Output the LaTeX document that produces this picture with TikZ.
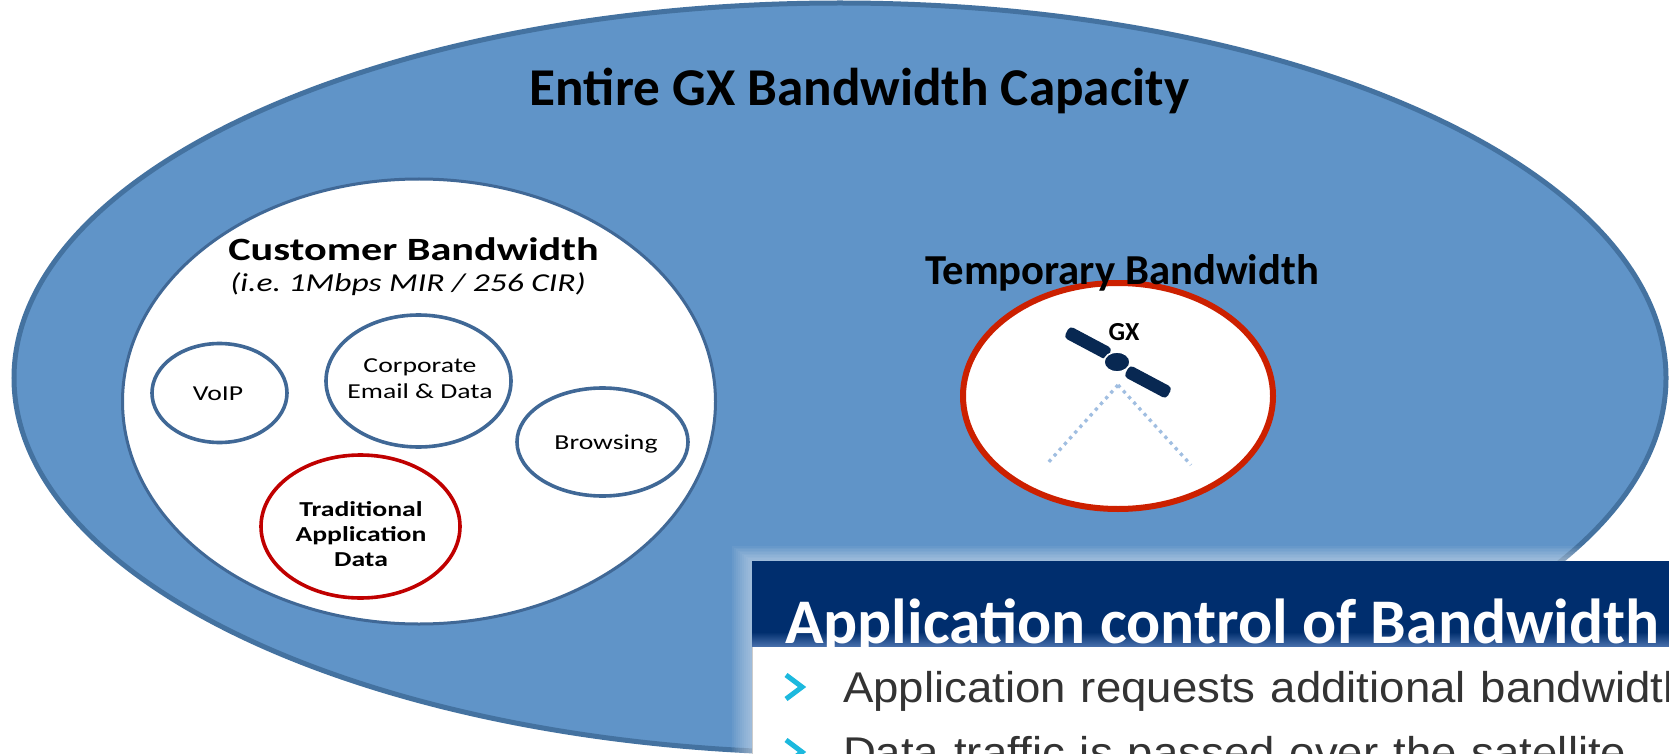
\documentclass[tikz,border=0pt]{standalone}
\usepackage{fontspec}
\setmainfont{Carlito}
\newfontfamily\widefont[FakeStretch=1.3]{Carlito}
\newfontfamily\arialfont[FakeStretch=1.06]{Liberation Sans}
\usetikzlibrary{shapes.geometric}
\definecolor{gxfill}{RGB}{96,148,200}
\definecolor{gxline}{RGB}{68,114,160}
\definecolor{cline}{RGB}{64,104,150}
\definecolor{tradred}{RGB}{192,0,0}
\definecolor{tempred}{RGB}{204,32,0}
\definecolor{navy}{RGB}{0,46,110}
\definecolor{navylow}{RGB}{70,110,170}
\definecolor{satnavy}{RGB}{8,40,82}
\definecolor{beamblue}{RGB}{160,190,225}
\definecolor{chev}{RGB}{28,185,222}
\definecolor{bodytext}{RGB}{51,51,51}
\frenchspacing
\begin{document}
\begin{tikzpicture}[x=0.5pt,y=-0.5pt,
  lbl/.style={inner sep=0pt, outer sep=0pt, anchor=base, align=center},
  smalltxt/.style={lbl, font=\widefont\fontsize{10.65pt}{12.75pt}\selectfont},
  smallbold/.style={lbl, font=\widefont\bfseries\fontsize{10.65pt}{12.5pt}\selectfont},
  oval/.style={ellipse, inner sep=0pt, outer sep=0pt},
  appcirc/.style={oval, draw=cline, fill=white, line width=1.8pt},
  panelst/.style={rectangle, rounded corners=2pt, fill=satnavy, inner sep=0pt,
                  minimum width=24pt, minimum height=6.5pt, rotate=-28},
  beamst/.style={draw=beamblue, line width=1.65pt, dash pattern=on 1.65pt off 2.2pt},
  chevst/.style={draw=chev, line width=2.5pt, line join=miter},
  bullettxt/.style={inner sep=0pt, outer sep=0pt, anchor=base west, text=bodytext,
                    font=\arialfont\fontsize{21.5pt}{25pt}\selectfont}
]
\useasboundingbox (0,0) rectangle (1669,754);
\clip (0,0) rectangle (1669,754);
\fill[white] (0,0) rectangle (1669,754);

% entire GX capacity
\node[oval, draw=gxline, fill=gxfill, line width=2.5pt,
      minimum width=826pt, minimum height=375pt] (gx) at (840,378) {};
\node[lbl, font=\bfseries\fontsize{26.6pt}{30pt}\selectfont] (gxT) at (859.5,106)
  {Entire GX Bandwidth Capacity};

% customer bandwidth
\node[oval, draw=cline, fill=white, line width=1.5pt,
      minimum width=296.5pt, minimum height=222.5pt] (cust) at (419,401.5) {};
\node[lbl, font=\widefont\bfseries\fontsize{16.25pt}{19pt}\selectfont] (custT) at (413.5,261)
  {Customer Bandwidth};
\node[lbl, font=\widefont\itshape\fontsize{12.9pt}{15pt}\selectfont] (custS) at (408,292)
  {(i.e. 1Mbps MIR / 256 CIR)};

\node[appcirc, minimum width=67.5pt, minimum height=49.5pt] (voip) at (219.5,393) {};
\node[smalltxt] (voipT) at (218,400) {VoIP};
\node[appcirc, minimum width=92.5pt, minimum height=66pt] (corp) at (418.5,381) {};
\node[smalltxt] (corpT) at (420,398) {Corporate\\Email \& Data};
\node[appcirc, minimum width=85.5pt, minimum height=54pt] (brow) at (602.5,442) {};
\node[smalltxt] (browT) at (606,449) {Browsing};
\node[appcirc, draw=tradred, minimum width=99.5pt, minimum height=71.5pt] (trad) at (360.5,526.5) {};
\node[smallbold] (tradT) at (361,566) {Traditional\\Application\\Data};

% temporary bandwidth
\node[oval, draw=tempred, fill=white, line width=3pt,
      minimum width=155pt, minimum height=113pt] (temp) at (1118,396) {};
\node[lbl, font=\bfseries\fontsize{21.35pt}{25pt}\selectfont] (tempT) at (1122,285)
  {Temporary Bandwidth};
\coordinate (apex) at (1118,385);
\coordinate (beamL) at (1046,465);
\coordinate (beamR) at (1191,465);
\draw[beamst] (apex) -- (beamL);
\draw[beamst] (apex) -- (beamR);
\node[panelst] (panelL) at (1088,343) {};
\node[panelst] (panelR) at (1148,382) {};
\node[oval, fill=satnavy, draw=white, line width=0.8pt,
      minimum width=13pt, minimum height=10pt] (satbody) at (1117,362) {};
\node[lbl, font=\bfseries\fontsize{13pt}{15pt}\selectfont] (satT) at (1124,340) {GX};

% application control box
\foreach \i in {1,...,10}
  \fill[white, opacity=0.05] (752-2*\i,561-1.5*\i) rectangle (1700,800);
\fill[white] (752,646) rectangle (1700,800);
\draw[black!20, line width=0.5pt] (752,646) -- (752,800);
\fill[navy] (752,561) rectangle (1700,632);
\shade[top color=navy, bottom color=navylow] (752,632) rectangle (1700,646);
\node[lbl, anchor=base west, text=white, font=\bfseries\fontsize{31.8pt}{36pt}\selectfont]
  (headT) at (785,643) {Application control of Bandwidth};

\draw[chevst] (786,675) -- (802,687) -- (786,699);
\node[bullettxt] (b1) at (843,702) {\spaceskip=7.5pt\relax Application requests additional bandwidth};
\draw[chevst] (786,740) -- (802,752) -- (786,764);
\node[bullettxt] (b2) at (843,767) {\spaceskip=7.5pt\relax Data traffic is passed over the satellite};
\end{tikzpicture}
\end{document}
